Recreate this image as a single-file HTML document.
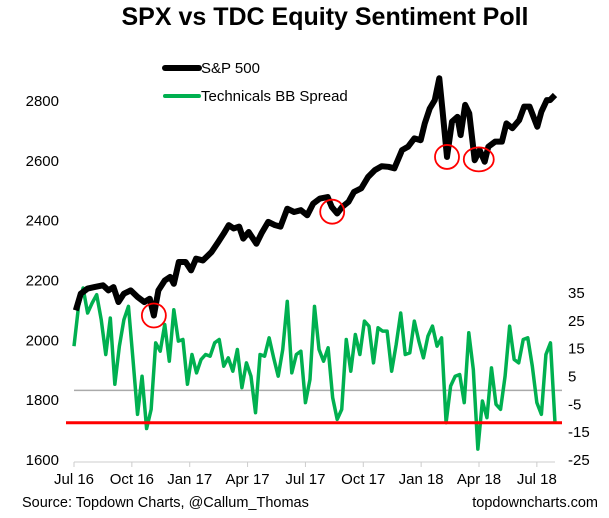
<!DOCTYPE html>
<html><head><meta charset="utf-8"><style>
body{margin:0;background:#fff;}
svg{display:block;font-family:"Liberation Sans",Arial,sans-serif;}
</style></head><body>
<svg id="chart" width="609" height="518">
<text x="325" y="25" text-anchor="middle" font-size="25" font-weight="bold" fill="#000">SPX vs TDC Equity Sentiment Poll</text>
<g>
<line x1="165" y1="68" x2="199" y2="68" stroke="#000" stroke-width="6" stroke-linecap="round"/>
<text x="201" y="73" font-size="15">S&amp;P 500</text>
<line x1="165" y1="96" x2="199" y2="96" stroke="#00b050" stroke-width="4" stroke-linecap="round"/>
<text x="201" y="101" font-size="15">Technicals BB Spread</text>
</g>
<g id="axes"></g>
<g id="series"></g>
<text x="22" y="507" font-size="14.5">Source: Topdown Charts, @Callum_Thomas</text>
<text x="598" y="507" font-size="14.5" text-anchor="end">topdowncharts.com</text>
</svg>
<script>
const leftTicks=[1600,1800,2000,2200,2400,2600,2800];
const rightTicks=[-25,-15,-5,5,15,25,35];
const monthLabels=["Jul 16","Oct 16","Jan 17","Apr 17","Jul 17","Oct 17","Jan 18","Apr 18","Jul 18"];
const monthWeeks=[0,12.75,25.5,38.25,51,63.75,76.5,89.25,102];
const spWeeks=[0.4,1.5,3,4.5,6.4,7.6,8.7,9.8,11,12.5,14,15.5,16.7,17.6,18.6,20,21.2,22,23.1,24.6,25.8,26.9,28.4,30.3,31.8,33,34.1,35.2,36.4,37.3,38.5,40.2,41.3,42.8,44.3,45.5,47,48.5,50,51.4,52.7,54.2,55.9,56.8,58,59.1,60.5,61.7,63.3,64.8,66.3,67.8,69.3,70.6,72.3,73.6,75,76.4,77.3,78.4,79.5,80.5,81.2,82.2,83.3,84.5,85.2,86.2,87.1,88.3,89.4,90.5,91.3,92.8,94.3,95.3,96.6,98.1,99.2,100.4,102.1,103,104.2,104.9,106];
const spValues=[2100,2156,2173,2178,2184,2167,2178,2128,2156,2167,2145,2128,2139,2083,2167,2200,2212,2189,2262,2262,2234,2273,2267,2295,2329,2357,2385,2374,2380,2340,2362,2323,2357,2396,2385,2380,2440,2429,2435,2418,2457,2474,2479,2446,2424,2446,2463,2496,2508,2546,2569,2582,2580,2575,2636,2647,2675,2669,2725,2775,2803,2876,2770,2613,2731,2747,2686,2787,2759,2602,2636,2597,2647,2664,2664,2725,2709,2736,2781,2781,2714,2764,2803,2803,2820];
const bbValues=[15.9,30.2,36.8,27.8,31.4,34.4,25.4,12.9,26,2.2,15.9,25.4,30.2,11.1,-8.6,5.1,-13.7,-6.8,17.1,14.1,23.7,10.5,29,17.7,18.3,2.2,12.9,6.3,11.1,12.9,12.3,17.1,18.3,8.7,11.7,6.9,14.7,1,9.9,5.1,-8,12.9,12.3,18.9,11.7,5.1,14.7,32,6.3,12.9,14.1,-4.4,3.9,30.2,14.7,10.5,15.3,-2.6,-10.4,-6.8,18.3,6.9,20.1,12.9,24.9,23.1,9.9,22.5,21.3,21.3,6.9,16.5,27.8,12.9,13.5,24.9,17.7,11.7,19.5,23.1,15.9,18.9,-11.6,1.6,5.1,5.7,-4.4,20.7,7.5,-21.1,-3.8,-9.8,8.1,-5,-6.8,5.1,23.1,11.1,9.9,18.3,18.9,8.7,-4.4,-8.6,12.9,17.1,-11.6];
const redLineValue=-11.6;
const circleWeeks=[17.6,56.9,82.2,89.2];
const circleValues=[2083,2430,2613,2605];

const NS="http://www.w3.org/2000/svg";
const X0=74,X1=555,W0=0,W1=106;
const xS=w=>X0+(w-W0)*(X1-X0)/(W1-W0);
const yL=v=>101+(2800-v)*(359/1200);
const yR=v=>293+(35-v)*(167/60);
function mk(tag,attrs,parent){const e=document.createElementNS(NS,tag);for(const k in attrs)e.setAttribute(k,attrs[k]);parent.appendChild(e);return e;}
const axes=document.getElementById('axes'),ser=document.getElementById('series');

leftTicks.forEach(t=>{const e=mk('text',{x:59,y:yL(t)+5,'text-anchor':'end','font-size':15},axes);e.textContent=t;

});
rightTicks.forEach(t=>{const e=mk('text',{x:568,y:yR(t)+5,'font-size':15},axes);e.textContent=t;

});
const ax=mk('line',{x1:X0,y1:462,x2:X1,y2:462,stroke:'#ccc','stroke-width':1},axes);


monthLabels.forEach((m,i)=>{const x=xS(monthWeeks[i]);
const tk=mk('line',{x1:x,y1:462,x2:x,y2:467,stroke:'#ccc'},axes);


const e=mk('text',{x:x,y:484,'text-anchor':'middle','font-size':15},axes);e.textContent=m;

});
const zl=mk('line',{x1:X0,y1:yR(0),x2:X1+7,y2:yR(0),stroke:'#aaa','stroke-width':1.5},axes);



const gp=mk('polyline',{points:bbValues.map((v,i)=>xS(i)+','+yR(v)).join(' '),fill:'none',stroke:'#00b050','stroke-width':3.5,'stroke-linejoin':'round'},ser);


const rl=mk('line',{x1:66,y1:yR(redLineValue),x2:X1+7,y2:yR(redLineValue),stroke:'#ff0000','stroke-width':3},ser);


const bp=mk('polyline',{points:spValues.map((v,i)=>xS(spWeeks[i])+','+yL(v)).join(' '),fill:'none',stroke:'#000','stroke-width':6,'stroke-linejoin':'round'},ser);


circleWeeks.forEach((w,i)=>{const c=mk('ellipse',{cx:xS(w),cy:yL(circleValues[i]),rx:i==3?15:12,ry:12,fill:'none',stroke:'#ff0000','stroke-width':1.8},ser);

});
</script>
</body></html>
